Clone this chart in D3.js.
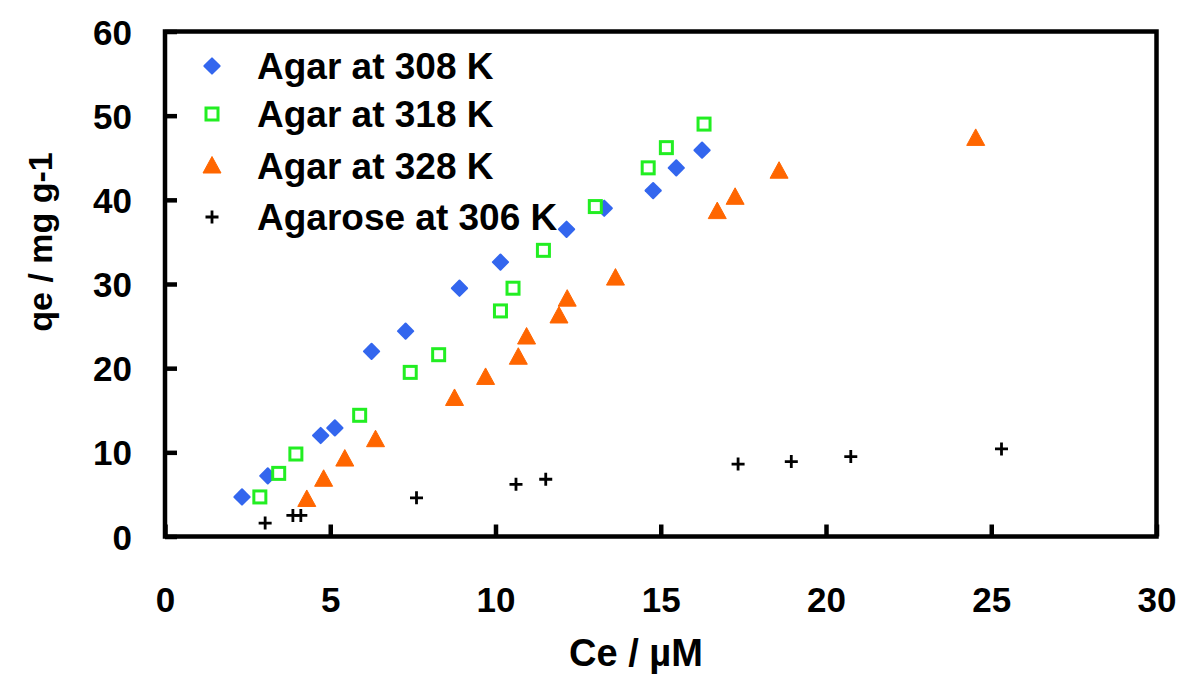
<!DOCTYPE html>
<html><head><meta charset="utf-8">
<script src="https://cdn.jsdelivr.net/npm/d3@7/dist/d3.min.js"></script>
<style>body{margin:0;background:#fff}svg{display:block}text{font-family:"Liberation Sans",Arial,sans-serif;font-weight:bold;fill:#000}</style>
</head><body><svg id="c" width="1200" height="688"></svg>
<script>
const seriesNames = ["Agar at 308 K","Agar at 318 K","Agar at 328 K","Agarose at 306 K"];
const agar308X = [2.33,3.11,4.71,5.14,6.25,7.28,8.91,10.15,12.15,13.29,14.77,15.47,16.25];
const agar308Y = [4.7,7.2,12.0,12.9,22.0,24.4,29.5,32.6,36.5,39.0,41.1,43.8,45.9];
const agar318X = [2.87,3.44,3.96,5.89,7.42,8.28,10.15,10.53,11.45,13.02,14.62,15.17,16.31];
const agar318Y = [4.7,7.5,9.8,14.4,19.5,21.6,26.8,29.5,34.0,39.2,43.8,46.2,49.0];
const agar328X = [4.29,4.80,5.44,6.37,8.76,9.70,10.69,10.94,11.92,12.17,13.63,16.71,17.25,18.58,24.53];
const agar328Y = [4.4,6.8,9.2,11.5,16.4,18.9,21.3,23.7,26.2,28.2,30.7,38.6,40.3,43.4,47.3];
const agaroseX = [3.03,3.87,4.11,7.61,10.62,11.52,17.34,18.95,20.75,25.31];
const agaroseY = [1.6,2.5,2.5,4.6,6.2,6.8,8.6,8.9,9.5,10.4];
const xTicks = [0,5,10,15,20,25,30];
const yTicks = [0,10,20,30,40,50,60];

const svg = d3.select("#c");
const L=165, R=1156.5, T=31.5, B=536.5;
const x = d3.scaleLinear().domain([0,30]).range([L,R]);
const y = d3.scaleLinear().domain([0,60]).range([B,T]);

const xa = svg.append("g").attr("transform",`translate(0,${B})`)
  .call(d3.axisBottom(x).tickValues(xTicks).tickSizeInner(-12).tickSizeOuter(0));
xa.selectAll(".tick line").attr("stroke","#000").attr("stroke-width",4.5);
xa.selectAll(".tick text").attr("y",75).attr("dy",0).attr("font-size",35).attr("font-family",null).attr("fill","#000");
xa.select(".domain").remove();
const ya = svg.append("g").attr("transform",`translate(${L},0)`)
  .call(d3.axisLeft(y).tickValues(yTicks).tickSizeInner(-12).tickSizeOuter(0));
ya.selectAll(".tick line").attr("stroke","#000").attr("stroke-width",4.5);
ya.selectAll(".tick text").attr("x",-33).attr("dy","0.36em").attr("font-size",35).attr("font-family",null).attr("fill","#000");
ya.select(".domain").remove();
svg.append("rect").attr("x",L).attr("y",T).attr("width",R-L).attr("height",B-T)
  .attr("fill","none").attr("stroke","#000").attr("stroke-width",4.5);

svg.append("text").attr("x",636).attr("y",666).attr("text-anchor","middle").attr("font-size",38).text("Ce / µM");
svg.append("text").attr("transform","translate(52,242) rotate(-90)").attr("text-anchor","middle").attr("font-size",34).text("qe / mg g-1");

const blue="#3366ee", green="#22ee22", orange="#ff6600";
function addMarker(s, kind){
  if(kind===0){
    s.append("rect").attr("x",-6.4).attr("y",-6.4).attr("width",12.8).attr("height",12.8).attr("rx",1)
     .attr("transform","rotate(45)").attr("fill",blue);
  } else if(kind===1){
    s.append("rect").attr("x",-6).attr("y",-6).attr("width",12).attr("height",12)
     .attr("fill","#fff").attr("stroke",green).attr("stroke-width",3);
  } else if(kind===2){
    s.append("path").attr("d","M0,-9.5L9,7L-9,7Z").attr("fill",orange).attr("stroke",orange).attr("stroke-width",1).attr("stroke-linejoin","round");
  } else {
    s.append("path").attr("d","M-6.5,0H6.5M0,-6.5V6.5").attr("stroke","#000").attr("stroke-width",2.8);
  }
}
function drawSeries(xs, ys, kind){
  const pts = xs.map((v,i)=>[v,ys[i]]);
  const s = svg.append("g").selectAll("g").data(pts).join("g")
    .attr("transform",d=>`translate(${x(d[0])},${y(d[1])})`);
  addMarker(s, kind);
}
drawSeries(agar308X, agar308Y, 0);
drawSeries(agar318X, agar318Y, 1);
drawSeries(agar328X, agar328Y, 2);
drawSeries(agaroseX, agaroseY, 3);

const legY = [66,114,166,217];
seriesNames.forEach((n,i)=>{
  const g = svg.append("g").attr("transform",`translate(212,${legY[i]})`);
  addMarker(g, i);
  svg.append("text").attr("x",257).attr("y",legY[i]+12.5).attr("font-size",37).text(n);
});
</script></body></html>
